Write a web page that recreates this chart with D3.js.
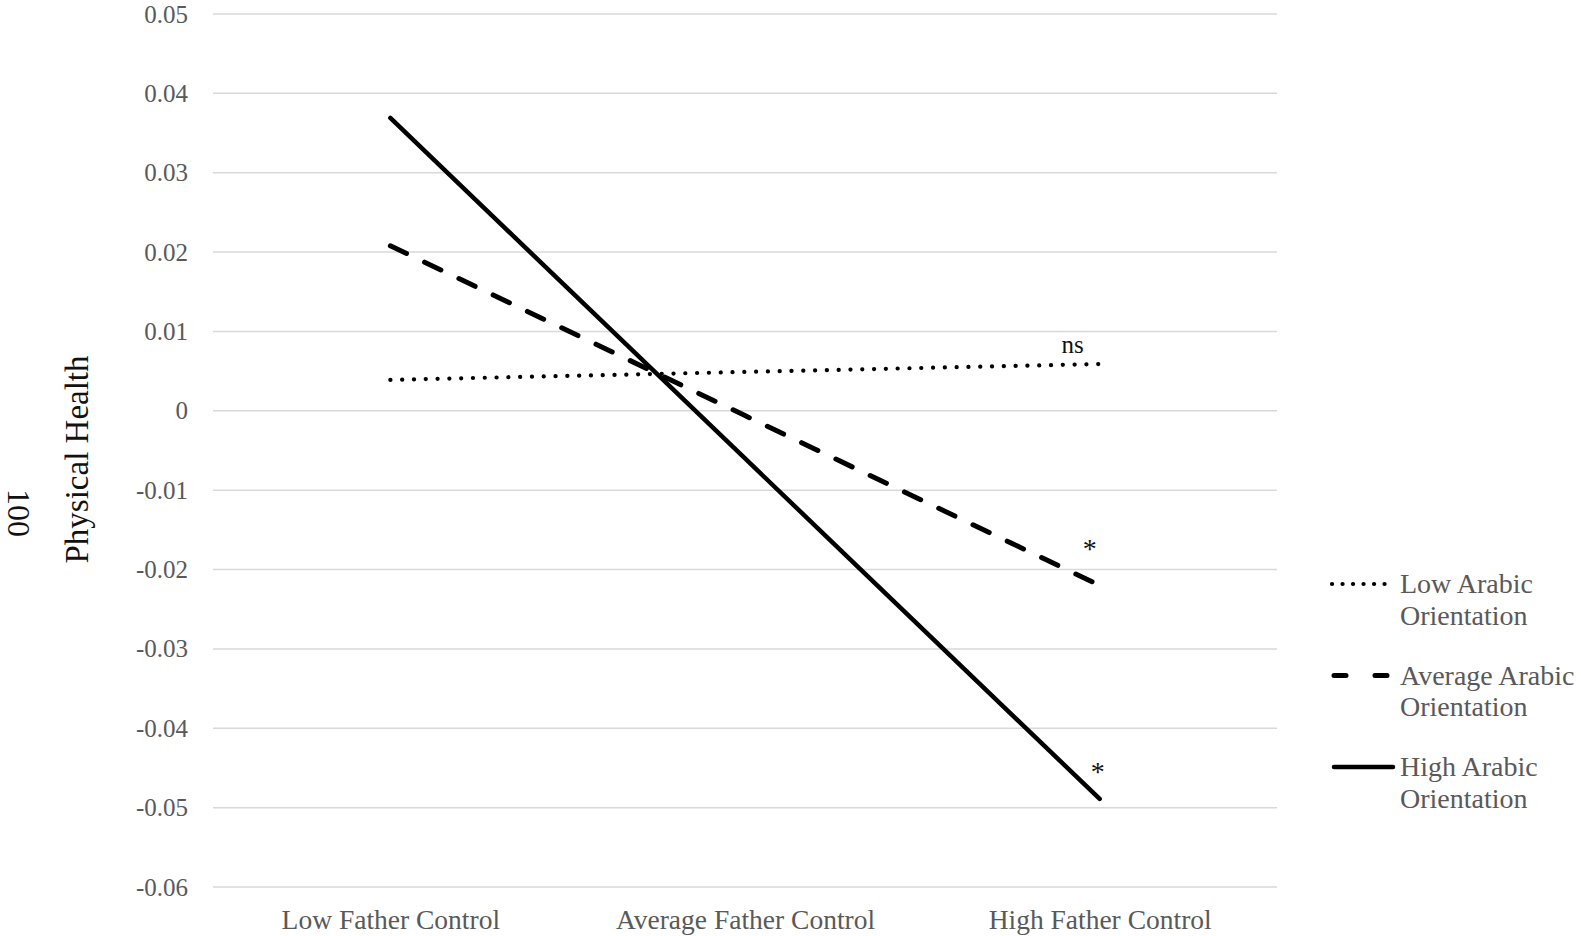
<!DOCTYPE html>
<html>
<head>
<meta charset="utf-8">
<script src="https://cdn.jsdelivr.net/npm/d3@7"></script>
<style>
  html, body { margin: 0; padding: 0; background: #fff; }
  svg { display: block; font-family: "Liberation Serif", "Times New Roman", serif; }
</style>
</head>
<body>
<svg width="1581" height="936"></svg>
<script>
const categories = ["Low Father Control", "Average Father Control", "High Father Control"];
const seriesNames = ["Low Arabic Orientation", "Average Arabic Orientation", "High Arabic Orientation"];
const lowArabic = [0.0039, 0.0049, 0.0059];
const avgArabic = [0.0208, -0.0006, -0.0220];
const highArabic = [0.0369, -0.0060, -0.0489];
const yTicks = [0.05, 0.04, 0.03, 0.02, 0.01, 0, -0.01, -0.02, -0.03, -0.04, -0.05, -0.06];
const marks = ["ns", "*", "*"];

const svg = d3.select("svg");
const plotL = 213, plotR = 1277, plotT = 14, plotB = 887;

const x = d3.scalePoint().domain(categories).range([plotL, plotR]).padding(0.5);
const y = d3.scaleLinear().domain([-0.06, 0.05]).range([plotB, plotT]);

// gridlines
svg.append("g")
  .selectAll("line")
  .data(yTicks)
  .join("line")
  .attr("x1", plotL).attr("x2", plotR)
  .attr("y1", d => y(d)).attr("y2", d => y(d))
  .attr("stroke", "#d9d9d9")
  .attr("stroke-width", 1.5);

// y tick labels
const yAxis = svg.append("g")
  .attr("transform", `translate(${plotL - 25},0)`)
  .call(d3.axisLeft(y).tickValues(yTicks).tickSize(0).tickPadding(0)
    .tickFormat(d => d === 0 ? "0" : d3.format(".2f")(d).replace("−", "-")));
yAxis.select(".domain").remove();
yAxis.selectAll("text")
  .attr("font-family", "Liberation Serif, serif")
  .attr("font-size", 25)
  .attr("fill", "#595959");

// x labels
const xAxis = svg.append("g")
  .attr("transform", `translate(0,${plotB})`)
  .call(d3.axisBottom(x).tickSize(0).tickPadding(22));
xAxis.select(".domain").remove();
xAxis.selectAll("text")
  .attr("font-family", "Liberation Serif, serif")
  .attr("font-size", 27.5)
  .attr("fill", "#595959");

// y title
svg.append("text")
  .attr("transform", `translate(88,${(plotT + plotB) / 2 + 9}) rotate(-90)`)
  .attr("text-anchor", "middle")
  .attr("font-size", 33)
  .attr("fill", "#111")
  .text("Physical Health");

svg.append("text")
  .attr("transform", "translate(8,513) rotate(90)")
  .attr("text-anchor", "middle")
  .attr("font-size", 32)
  .attr("fill", "#111")
  .text("100");

const styles = [
  { dash: "0.1,11.7", width: 4.2 },
  { dash: "18,20", width: 5 },
  { dash: null, width: 4.5 }
];
const series = [lowArabic, avgArabic, highArabic];

const line = d3.line()
  .x((d, i) => x(categories[i]))
  .y(d => y(d));

svg.append("g")
  .selectAll("path")
  .data(series)
  .join("path")
  .attr("d", d => line(d))
  .attr("fill", "none")
  .attr("stroke", "#000")
  .attr("stroke-width", (d, i) => styles[i].width)
  .attr("stroke-linecap", "round")
  .attr("stroke-dasharray", (d, i) => styles[i].dash);

// significance marks
const markOffsets = [[-27, -11], [-10, -27], [-2, -18]];
svg.append("g")
  .selectAll("text")
  .data(series)
  .join("text")
  .attr("x", (d, i) => x(categories[2]) + markOffsets[i][0])
  .attr("y", (d, i) => y(d[2]) + markOffsets[i][1])
  .attr("text-anchor", "middle")
  .attr("font-size", (d, i) => i === 0 ? 25 : 28)
  .attr("fill", "#111")
  .text((d, i) => marks[i]);

// legend
const legend = svg.append("g").attr("transform", "translate(1332,584)");
const item = legend.selectAll("g")
  .data(seriesNames)
  .join("g")
  .attr("transform", (d, i) => `translate(0,${i * 91.5})`);
item.append("line")
  .attr("x1", (d, i) => i === 0 ? 0 : 2).attr("x2", 61)
  .attr("stroke", "#000")
  .attr("stroke-width", (d, i) => styles[i].width)
  .attr("stroke-linecap", "round")
  .attr("stroke-dasharray", (d, i) => i === 0 ? "0.1,10.4" : (i === 1 ? "12,29" : null));
const lt = item.append("text")
  .attr("x", 68)
  .attr("y", 9)
  .attr("font-size", 28)
  .attr("fill", "#595959");
lt.append("tspan").attr("x", 68).text(d => d.split(" ").slice(0, 2).join(" "));
lt.append("tspan").attr("x", 68).attr("dy", 31.5).text(d => d.split(" ").slice(2).join(" "));
</script>
</body>
</html>
